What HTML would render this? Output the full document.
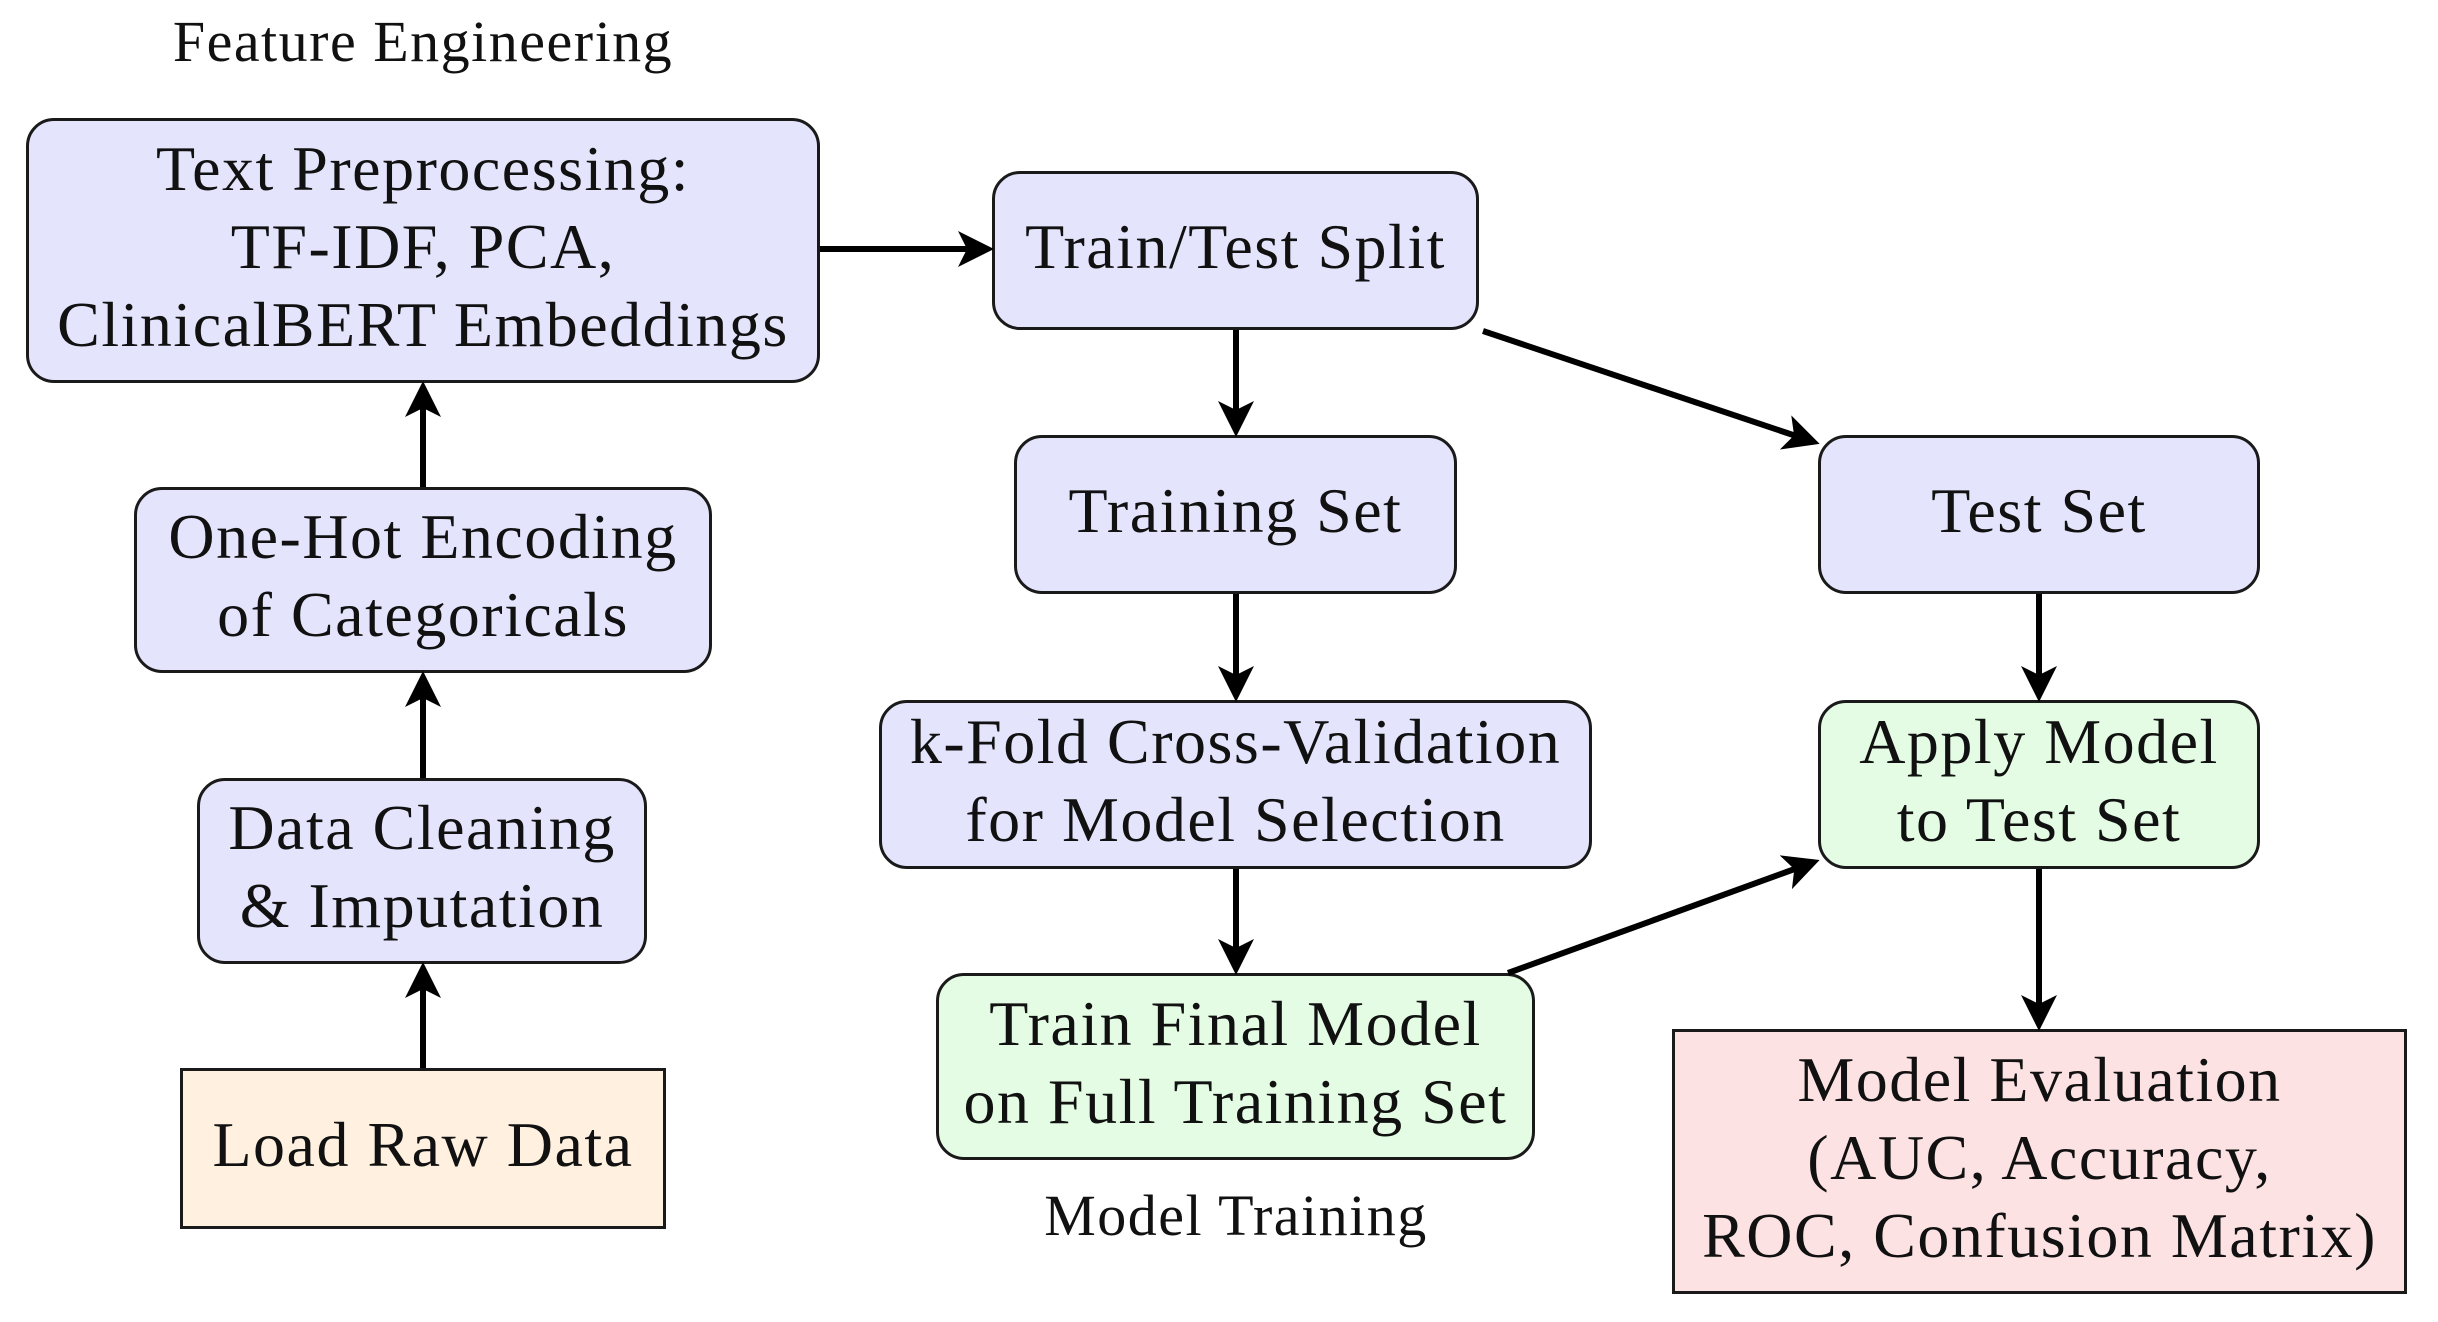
<!DOCTYPE html>
<html><head><meta charset="utf-8"><style>
html,body{margin:0;padding:0;background:#fff;}
body{width:2438px;height:1322px;position:relative;overflow:hidden;font-family:"Liberation Serif",serif;color:#111;}
.b{position:absolute;box-sizing:border-box;border:3.5px solid #1a1a1a;display:flex;align-items:center;justify-content:center;text-align:center;font-size:64px;letter-spacing:1.5px;line-height:78px;white-space:nowrap;padding-bottom:8px;}
.bl{background:#e4e4fc;border-radius:28px;}
.gr{background:#e4fce4;border-radius:28px;}
.or{background:#fff0e0;}
.rd{background:#fde2e4;}
.lab{position:absolute;font-size:58px;letter-spacing:1.5px;white-space:nowrap;transform:translateX(-50%);}
svg{position:absolute;left:0;top:0;}
</style></head><body>
<div class="lab" style="left:423px;top:8px">Feature Engineering</div>
<div class="lab" style="left:1236px;top:1182px">Model Training</div>

<div class="b bl" style="left:26px;top:118px;width:794px;height:265px">Text Preprocessing:<br>TF-IDF, PCA,<br>ClinicalBERT Embeddings</div>
<div class="b bl" style="left:992px;top:171px;width:487px;height:159px">Train/Test Split</div>
<div class="b bl" style="left:134px;top:487px;width:578px;height:186px">One-Hot Encoding<br>of Categoricals</div>
<div class="b bl" style="left:1014px;top:435px;width:443px;height:159px">Training Set</div>
<div class="b bl" style="left:1818px;top:435px;width:442px;height:159px">Test Set</div>
<div class="b bl" style="left:879px;top:700px;width:713px;height:169px">k-Fold Cross-Validation<br>for Model Selection</div>
<div class="b gr" style="left:1818px;top:700px;width:442px;height:169px">Apply Model<br>to Test Set</div>
<div class="b bl" style="left:197px;top:778px;width:450px;height:186px">Data Cleaning<br>&amp; Imputation</div>
<div class="b gr" style="left:936px;top:973px;width:599px;height:187px">Train Final Model<br>on Full Training Set</div>
<div class="b or" style="left:180px;top:1068px;width:486px;height:161px">Load Raw Data</div>
<div class="b rd" style="left:1672px;top:1029px;width:735px;height:265px">Model Evaluation<br>(AUC, Accuracy,<br>ROC, Confusion Matrix)</div>

<svg width="2438" height="1322" viewBox="0 0 2438 1322">
<defs><marker id="a" markerWidth="6" markerHeight="6" refX="5" refY="3" orient="auto" markerUnits="strokeWidth">
<path d="M0,0 L6,3 L0,6 L1.5,3 Z" fill="#000"/></marker></defs>
<g stroke="#000" stroke-width="6" fill="none" marker-end="url(#a)">
<line x1="423" y1="1068" x2="423" y2="968"/>
<line x1="423" y1="778" x2="423" y2="677"/>
<line x1="423" y1="487" x2="423" y2="387"/>
<line x1="820" y1="249" x2="988" y2="249"/>
<line x1="1236" y1="330" x2="1236" y2="431"/>
<line x1="1483" y1="331" x2="1814" y2="442"/>
<line x1="1236" y1="594" x2="1236" y2="696"/>
<line x1="1236" y1="869" x2="1236" y2="969"/>
<line x1="1508" y1="973" x2="1814" y2="862"/>
<line x1="2039" y1="594" x2="2039" y2="696"/>
<line x1="2039" y1="869" x2="2039" y2="1025"/>
</g>
</svg>
</body></html>
